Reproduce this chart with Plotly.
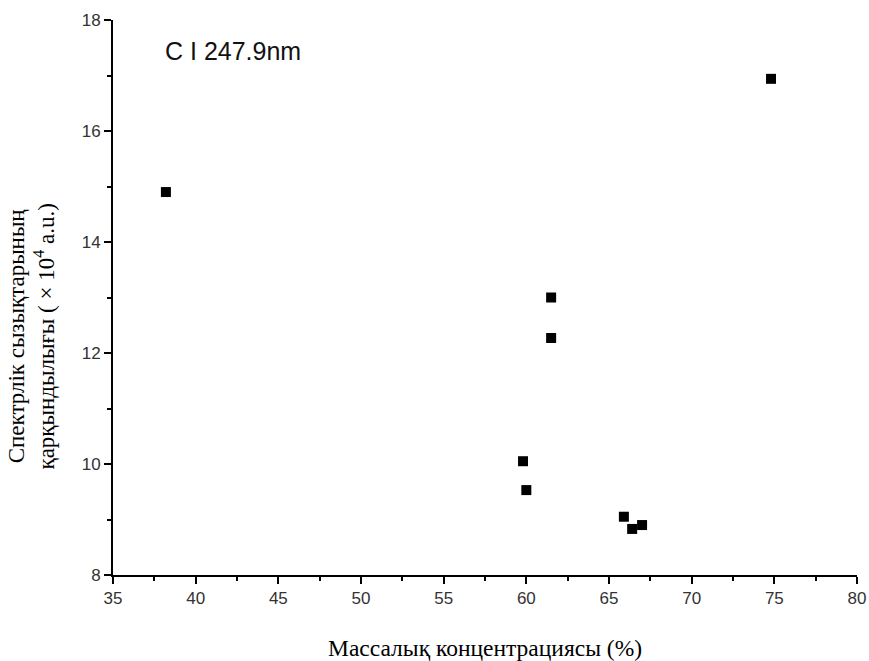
import plotly.graph_objects as go

# Mass concentration (%) vs. spectral line intensity (x10^4 a.u.), C I 247.9 nm
concentration = [38.2, 61.5, 61.5, 59.8, 60.0, 65.9, 66.4, 67.0, 74.8]
intensity = [14.9, 13.0, 12.27, 10.05, 9.53, 9.05, 8.83, 8.9, 16.94]

x_ticks = [35, 40, 45, 50, 55, 60, 65, 70, 75, 80]
y_ticks = [8, 10, 12, 14, 16, 18]

fig = go.Figure()
fig.add_trace(go.Scatter(
    x=concentration, y=intensity, mode="markers",
    marker=dict(symbol="square", size=10, color="black"),
    showlegend=False, cliponaxis=False,
))

tick_font = dict(family="Liberation Sans, Arial, sans-serif", size=17, color="#333")

fig.update_xaxes(
    range=[35, 80], tickvals=x_ticks, showgrid=False, zeroline=False,
    showline=True, linecolor="black", linewidth=2, automargin=False,
    ticks="outside", ticklen=7, tickwidth=1.5, tickcolor="black",
    tickfont=tick_font,
    minor=dict(dtick=2.5, ticks="outside", ticklen=4, tickwidth=1.5, tickcolor="black"),
)
fig.update_yaxes(
    range=[8, 18], tickvals=y_ticks, showgrid=False, zeroline=False,
    showline=True, linecolor="black", linewidth=2, automargin=False,
    ticks="outside", ticklen=7, tickwidth=1.5, tickcolor="black",
    tickfont=tick_font,
    minor=dict(dtick=1, ticks="outside", ticklen=4, tickwidth=1.5, tickcolor="black"),
)

serif = "Liberation Serif, Times New Roman, serif"

fig.add_annotation(
    text="Массалық концентрациясы (%)", xref="paper", yref="paper",
    x=0.5, y=-0.131, yanchor="middle", xanchor="center", showarrow=False,
    font=dict(family=serif, size=23.5, color="black"),
)
fig.add_annotation(
    text="Спектрлік сызықтарының<br>қарқындылығы ( × 10<sup>4</sup> a.u.)",
    xref="paper", yref="paper", x=-0.11, y=0.43,
    xanchor="center", yanchor="middle", textangle=-90, showarrow=False,
    font=dict(family=serif, size=23, color="black"),
)
fig.add_annotation(
    text="C I 247.9nm", xref="paper", yref="paper", x=0.067, y=0.945,
    xanchor="left", yanchor="middle", showarrow=False,
    font=dict(family="Liberation Sans, Arial, sans-serif", size=25, color="#111"),
)

fig.update_layout(
    width=869, height=661,
    margin=dict(l=113, r=12, t=20, b=86),
    paper_bgcolor="white", plot_bgcolor="white",
)

fig.write_html("out.html")
